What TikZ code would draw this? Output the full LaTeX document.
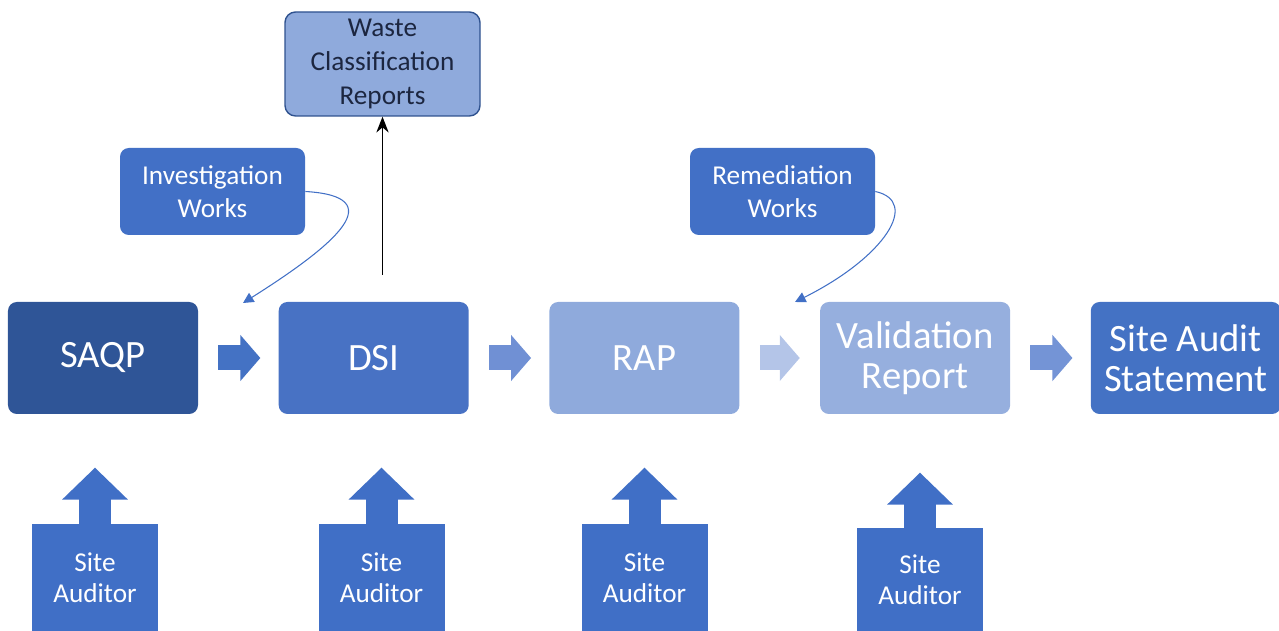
\documentclass[tikz,border=0pt]{standalone}
\usepackage{fontspec}
\setmainfont{Carlito}
\usetikzlibrary{positioning,arrows.meta}

\definecolor{saqpblue}{RGB}{47,85,151}
\definecolor{dsiblue}{RGB}{72,114,196}
\definecolor{rapblue}{RGB}{143,170,220}
\definecolor{valblue}{RGB}{150,175,222}
\definecolor{sasblue}{RGB}{68,114,196}
\definecolor{workblue}{RGB}{66,112,198}
\definecolor{audblue}{RGB}{64,111,198}
\definecolor{wasteline}{RGB}{47,82,143}
\definecolor{wastetext}{RGB}{28,38,64}
\definecolor{flowA}{RGB}{68,114,196}
\definecolor{flowB}{RGB}{112,144,212}
\definecolor{flowC}{RGB}{180,197,232}
\definecolor{flowD}{RGB}{116,148,214}

\begin{document}
\begin{tikzpicture}[
  stage/.style={rectangle, rounded corners=5pt, minimum width=3.8cm, minimum height=2.24cm,
    inner sep=2pt, text=white, align=center, font=\fontsize{22}{23}\selectfont},
  works/.style={rectangle, rounded corners=5pt, fill=workblue, minimum width=3.7cm,
    minimum height=1.74cm, text=white, align=center, font=\fontsize{15.5}{18.5}\selectfont},
  auditor/.style={rectangle, fill=audblue, minimum width=2.52cm, minimum height=2.14cm,
    text=white, align=center, font=\fontsize{15.5}{17.6}\selectfont},
  flow/.style={line width=0.5cm, -{Triangle[length=0.4cm,width=0.9cm]}},
  push/.style={audblue, line width=0.64cm, -{Triangle[length=0.64cm,width=1.28cm]}},
  feed/.style={workblue, line width=0.6pt, -{Triangle[length=6pt,width=6pt]}}
]
        \useasboundingbox (0,0) rectangle (25.58,12.62);

        % main chain
        \node[stage, fill=saqpblue] (saqp) at (2.06,5.46) {SAQP};
        \node[stage, fill=dsiblue, right=1.6cm of saqp] (dsi) {DSI};
        \node[stage, fill=rapblue, right=1.6cm of dsi] (rap) {RAP};
        \node[stage, fill=valblue, right=1.6cm of rap] (val) {Validation\\Report};
        \node[stage, fill=sasblue, right=1.6cm of val] (sas) {Site Audit\\Statement};

        \draw[flow, draw=flowA] ([xshift=0.4cm]saqp.east) -- ([xshift=-0.36cm]dsi.west);
        \draw[flow, draw=flowB] ([xshift=0.4cm]dsi.east) -- ([xshift=-0.36cm]rap.west);
        \draw[flow, draw=flowC] ([xshift=0.4cm]rap.east) -- ([xshift=-0.4cm]val.west);
        \draw[flow, draw=flowD] ([xshift=0.4cm]val.east) -- ([xshift=-0.36cm]sas.west);

        % works and reports
        \node[works] at (4.25,8.79) (inv) {Investigation\\Works};
        \node[works] at (15.65,8.79) (rem) {Remediation\\Works};
        \node[rectangle, rounded corners=6pt, fill=rapblue, draw=wasteline, line width=0.8pt,
          minimum width=3.9cm, minimum height=2.08cm, text=wastetext, align=center,
          font=\fontsize{15.5}{19.2}\selectfont] at (7.65,11.34) (waste) {Waste\\Classification\\Reports};

        \coordinate (invtip) at (4.86,6.56);
        \coordinate (remtip) at (15.9,6.58);
        \coordinate (dsitop) at (7.65,7.12);
        \draw[feed] (inv.east) .. controls +(1.7,-0.1) and +(1.9,1.2) .. (invtip);
        \draw[feed] (rem.east) .. controls +(0.9,-0.2) and +(1.8,0.9) .. (remtip);
        \draw[line width=0.9pt, -{Stealth[length=9pt,width=7pt]}] (dsitop) -- (waste.south);

        % auditors
        \node[auditor] at (1.9,1.07) (aud1) {Site\\Auditor};
        \node[auditor] at (7.63,1.07) (aud2) {Site\\Auditor};
        \node[auditor] at (12.89,1.07) (aud3) {Site\\Auditor};
        \node[auditor, minimum height=2.06cm] at (18.4,1.03) (aud4) {Site\\Auditor};
        \draw[push] (aud1.north) -- ++(0,1.12);
        \draw[push] (aud2.north) -- ++(0,1.12);
        \draw[push] (aud3.north) -- ++(0,1.12);
        \draw[push] (aud4.north) -- ++(0,1.1);
      \end{tikzpicture}
\end{document}
